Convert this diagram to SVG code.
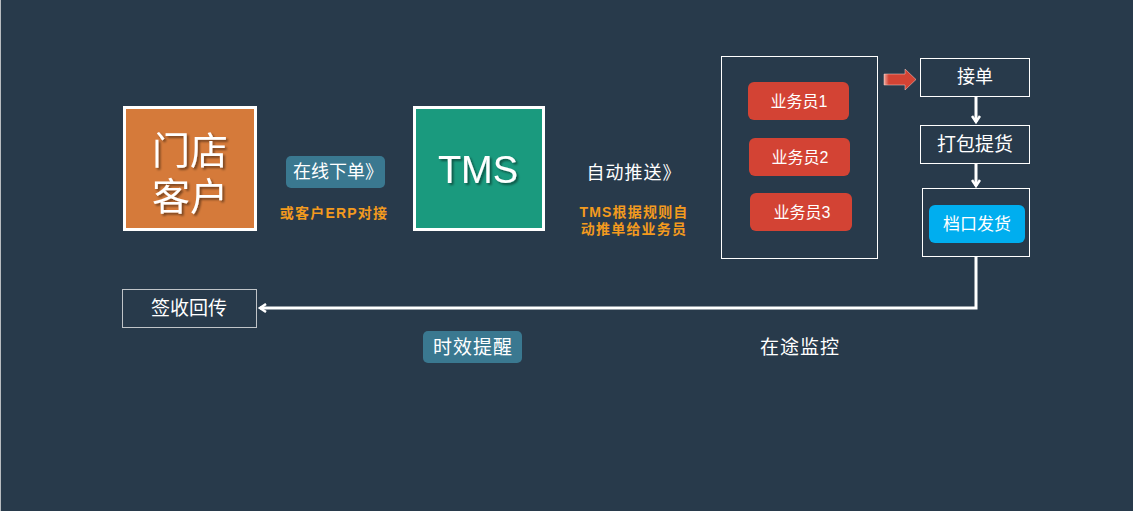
<svg xmlns="http://www.w3.org/2000/svg" width="1133" height="511" viewBox="0 0 1133 511">
<defs>
<style>
.t{font-family:"Liberation Sans","Noto Sans CJK SC",sans-serif;fill:#ffffff;text-anchor:middle;dominant-baseline:central}
.o{font-family:"Liberation Sans","Noto Sans CJK SC",sans-serif;fill:#f39a1e;font-weight:bold;font-size:14px;letter-spacing:1.2px;text-anchor:middle;dominant-baseline:central}
.box{fill:none;stroke:#ffffff;stroke-width:1}
.red{fill:#d34334}
.badge{fill:#3a7890}
.conn{fill:none;stroke:#ffffff;stroke-width:3}
</style>
<filter id="sh" x="-20%" y="-20%" width="140%" height="140%">
<feDropShadow dx="2" dy="2" stdDeviation="1" flood-color="#000000" flood-opacity="0.45"/>
</filter>
<marker id="ah" markerWidth="10" markerHeight="10" refX="7" refY="5" orient="auto" markerUnits="userSpaceOnUse">
<path d="M1,1 L7,5 L1,9" fill="none" stroke="#ffffff" stroke-width="2.5"/>
</marker>
<linearGradient id="rg" x1="0" y1="0" x2="1" y2="0">
<stop offset="0" stop-color="#f0a89e"/>
<stop offset="0.15" stop-color="#d34334"/>
<stop offset="1" stop-color="#d34334"/>
</linearGradient>
</defs>
<rect x="0" y="0" width="1133" height="511" fill="#283a4b"/>
<line x1="0.5" y1="0" x2="0.5" y2="511" stroke="#b8bcc0" stroke-width="1"/>

<g id="store">
<rect x="124.5" y="107.5" width="131" height="122" fill="#d57a3a" stroke="#ffffff" stroke-width="3"/>
<text class="t" x="190" y="151" font-size="38" filter="url(#sh)">门店</text>
<text class="t" x="190" y="197" font-size="38" filter="url(#sh)">客户</text>
</g>

<g id="online-order">
<rect class="badge" x="286" y="156" width="99" height="32" rx="5"/>
<text class="t" x="338" y="172" font-size="18">在线下单》</text>
<text class="o" x="334" y="213">或客户ERP对接</text>
</g>

<g id="tms">
<rect x="414.5" y="107.5" width="129" height="122" fill="#1a9a7e" stroke="#ffffff" stroke-width="3"/>
<text class="t" x="478" y="170" font-size="38" filter="url(#sh)">TMS</text>
</g>

<g id="auto-push">
<text class="t" x="634" y="173" font-size="18" letter-spacing="1">自动推送》</text>
<text class="o" x="634" y="212">TMS根据规则自</text>
<text class="o" x="634" y="229">动推单给业务员</text>
</g>

<g id="staff-group">
<rect class="box" x="721.5" y="56.5" width="156" height="202"/>
</g>
<g id="staff1">
<rect class="red" x="748" y="82" width="101" height="38" rx="6"/>
<text class="t" x="799" y="101" font-size="16">业务员1</text>
</g>
<g id="staff2">
<rect class="red" x="749" y="138" width="101" height="38" rx="6"/>
<text class="t" x="800" y="157" font-size="16">业务员2</text>
</g>
<g id="staff3">
<rect class="red" x="750" y="193" width="102" height="38" rx="6"/>
<text class="t" x="802" y="212" font-size="16">业务员3</text>
</g>

<g id="accept">
<rect class="box" x="920.5" y="58.5" width="109" height="38"/>
<text class="t" x="975" y="77" font-size="18">接单</text>
</g>
<g id="pack">
<rect class="box" x="920.5" y="125.5" width="109" height="38"/>
<text class="t" x="975" y="144" font-size="19">打包提货</text>
</g>
<g id="ship">
<rect class="box" x="922.5" y="188.5" width="107" height="68"/>
<rect x="929" y="205" width="96" height="38" rx="6" fill="#00aeef"/>
<text class="t" x="977" y="224" font-size="17">档口发货</text>
</g>

<g id="sign-back">
<rect x="122.5" y="289.5" width="134" height="38" fill="none" stroke="#c0c4c8" stroke-width="1"/>
<text class="t" x="189" y="308" font-size="19">签收回传</text>
</g>

<g id="timeliness">
<rect class="badge" x="423" y="331" width="99" height="32" rx="5"/>
<text class="t" x="473" y="347" font-size="19" letter-spacing="1">时效提醒</text>
</g>

<g id="in-transit">
<text class="t" x="800" y="347" font-size="19" letter-spacing="1">在途监控</text>
</g>

<g id="connectors">
<path d="M884,74 L905,74 L905,69 L916,79.5 L905,90 L905,85 L884,85 Z" fill="url(#rg)" stroke="#f5d0cb" stroke-width="0.5"/>
<line class="conn" x1="976" y1="97" x2="976" y2="122" marker-end="url(#ah)"/>
<line class="conn" x1="976" y1="164" x2="976" y2="186" marker-end="url(#ah)"/>
<polyline class="conn" points="976,257 976,308 260,308" marker-end="url(#ah)"/>
</g>
</svg>
